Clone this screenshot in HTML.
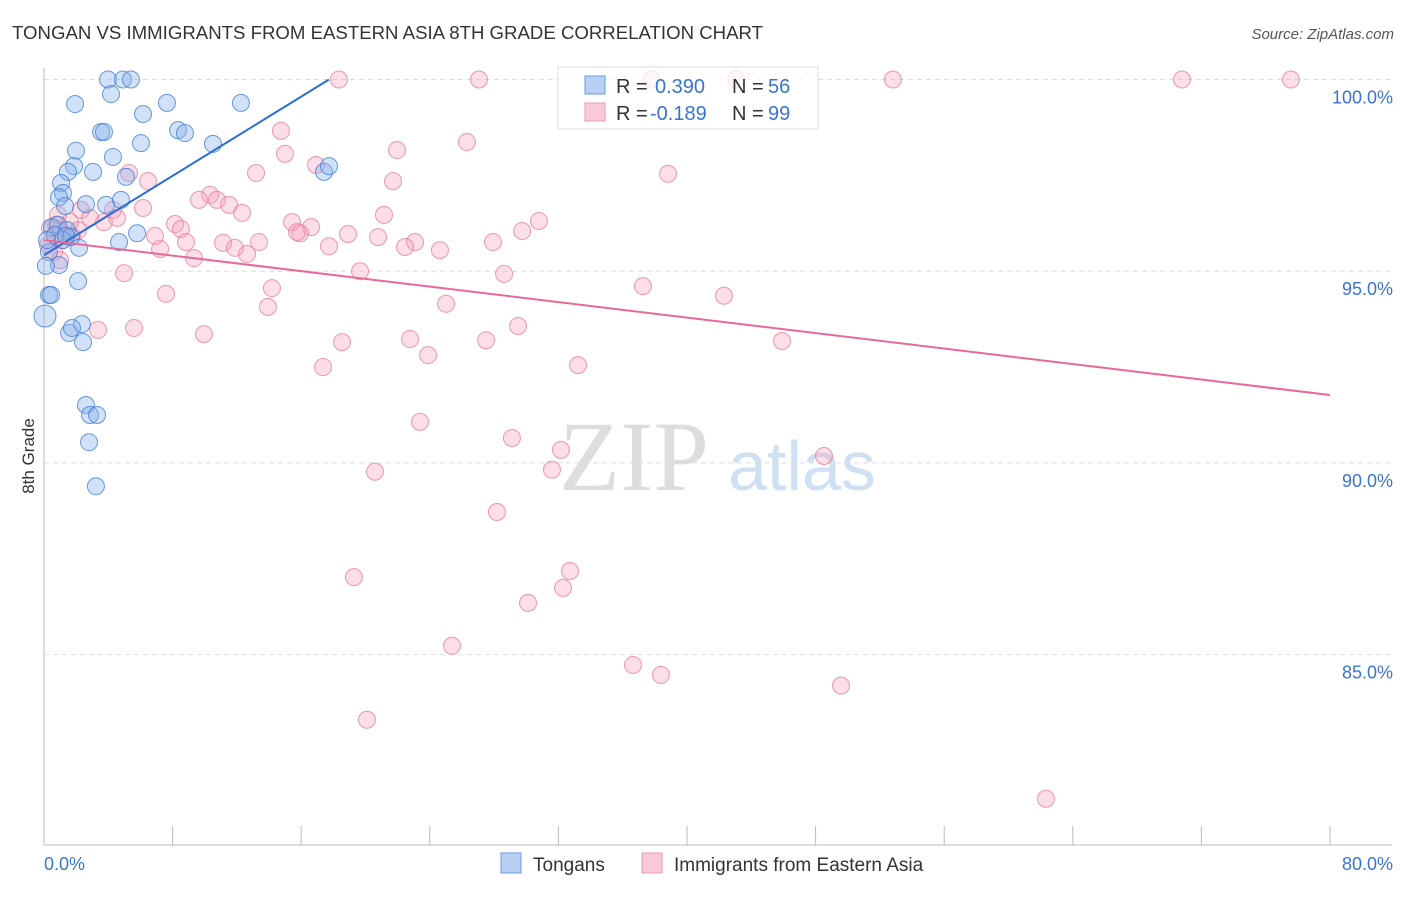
<!DOCTYPE html>
<html><head><meta charset="utf-8"><style>
body{margin:0;background:#fff;font-family:"Liberation Sans",sans-serif;}
</style></head><body>
<svg id="c" width="1406" height="892" font-family="Liberation Sans, sans-serif">
<text x="12" y="39" font-size="18" fill="#333" textLength="751" lengthAdjust="spacingAndGlyphs">TONGAN VS IMMIGRANTS FROM EASTERN ASIA 8TH GRADE CORRELATION CHART</text>
<text x="1394" y="39" font-size="15" fill="#555" font-style="italic" text-anchor="end">Source: ZipAtlas.com</text>
<text x="634" y="490" font-size="100" fill="#ddd" text-anchor="middle" style="font-family:'Liberation Serif',serif">ZIP</text>
<text x="802" y="490" font-size="70" fill="#cfe0f3" text-anchor="middle">atlas</text>
<text transform="translate(34,456) rotate(-90)" font-size="17" fill="#333" text-anchor="middle">8th Grade</text>
<g id="grid"></g><g id="marks"></g><g id="lines"></g>
<g>
<rect x="558" y="67" width="260" height="62" fill="rgba(255,255,255,0.75)" stroke="#ddd"/>
<rect x="585" y="76" width="20" height="18" fill="#b7d0f3" stroke="#6a9be0"/>
<rect x="585" y="103" width="20" height="18" fill="#f9c9d7" stroke="#ec9ab5"/>
<text x="616" y="93" font-size="20" fill="#333">R = <tspan x="655" fill="#3a74d2">0.390</tspan><tspan x="732" fill="#333">N = </tspan><tspan x="768" fill="#3a74d2">56</tspan></text>
<text x="616" y="120" font-size="20" fill="#333">R = <tspan x="650" fill="#3a74d2">-0.189</tspan><tspan x="732" fill="#333">N = </tspan><tspan x="768" fill="#3a74d2">99</tspan></text>
</g>
<g>
<rect x="501" y="853" width="20" height="20" fill="#b7d0f3" stroke="#6a9be0"/>
<text x="533" y="871" font-size="19" fill="#333">Tongans</text>
<rect x="642" y="853" width="20" height="20" fill="#f9c9d7" stroke="#ec9ab5"/>
<text x="674" y="871" font-size="19" fill="#333">Immigrants from Eastern Asia</text>
</g>
</svg>
<script>
const blueX=[3.98,4.91,5.41,4.17,1.93,7.65,12.25,6.16,3.55,3.73,8.34,8.77,6.03,10.51,4.29,1.99,1.87,1.49,3.05,1.06,5.10,17.42,17.73,1.18,0.93,2.61,1.31,3.86,4.79,0.50,0.87,1.43,1.68,4.67,5.79,2.18,0.31,0.93,0.12,2.12,0.31,0.44,0.06,2.36,1.56,1.74,2.43,2.61,2.86,3.30,2.80,3.23,1.18,0.68,1.37,0.19];
const blueY=[100,100,100,99.62,99.36,99.39,99.39,99.10,98.63,98.63,98.68,98.60,98.34,98.32,97.98,98.14,97.74,97.59,97.59,97.30,97.46,97.59,97.74,97.04,96.93,96.75,96.70,96.73,96.86,96.15,96.21,96.07,95.89,95.76,95.99,95.61,95.50,95.16,95.14,94.74,94.38,94.38,93.83,93.62,93.39,93.52,93.15,91.51,91.25,91.25,90.54,89.39,95.81,95.94,95.92,95.81];
const pinkX=[18.35,27.06,37.82,43.05,52.81,70.79,77.57,14.74,26.31,14.99,21.96,16.92,6.47,5.29,13.19,21.71,38.82,10.33,9.64,10.76,11.51,12.32,21.15,4.29,2.30,0.87,6.16,3.73,4.54,8.15,8.52,15.43,16.61,15.93,15.74,18.91,20.78,30.79,29.74,27.93,23.08,22.46,24.63,17.73,13.37,11.14,11.88,12.63,8.83,7.22,6.91,9.33,19.66,4.98,28.62,14.18,7.59,37.26,42.30,25.01,13.93,5.60,3.36,9.95,29.49,22.77,27.50,18.54,45.91,23.89,33.22,17.36,23.39,29.11,32.16,31.60,48.52,20.59,28.18,19.28,32.72,32.29,30.11,25.38,36.64,38.38,49.58,20.09,62.33,0.75,1.00,1.37,0.37,1.62,0.25,0.62,1.12,1.74,2.86,2.12,1.00];
const pinkY=[100,100,100,100,100,100,100,98.66,98.37,98.06,98.16,97.77,97.35,97.56,97.56,97.35,97.54,96.99,96.86,96.86,96.73,96.52,96.47,96.60,96.60,96.47,96.65,96.28,96.39,96.23,96.10,96.28,96.15,95.99,96.02,95.97,95.89,96.31,96.05,95.76,95.76,95.63,95.55,95.65,95.76,95.74,95.61,95.45,95.76,95.58,95.92,95.34,95.00,94.95,94.93,94.56,94.41,94.61,94.36,94.15,94.07,93.52,93.47,93.36,93.57,93.23,93.20,93.15,93.18,92.81,92.55,92.50,91.07,90.65,90.34,89.82,90.18,89.77,88.72,87.02,87.18,86.74,86.35,85.23,84.73,84.47,84.19,83.30,81.24,96.21,96.07,95.92,96.13,96.28,95.68,95.50,95.81,95.92,96.39,96.07,95.29];
const blueTrend=[0,95.42,17.73,100];
const pinkTrend=[0,95.81,80,91.77];
const yTicks=[100,95,90,85];
const yTickLabels=["100.0%","95.0%","90.0%","85.0%"];
const NS="http://www.w3.org/2000/svg";
const X0=44,X1=1330,Ytop=79.5,PPY=38.34;
const sx=v=>X0+(X1-X0)*v/80;
const sy=v=>Ytop+(100-v)*PPY;
function mk(t,a,p){const e=document.createElementNS(NS,t);for(const k in a)e.setAttribute(k,a[k]);p.appendChild(e);return e;}
const grid=document.getElementById('grid');
yTicks.forEach((t,i)=>{
 const l=mk('line',{x1:X0,x2:1392,y1:sy(t),y2:sy(t),stroke:'#ddd','stroke-dasharray':'5,4'},grid);
 
 
 const tx=mk('text',{x:1393,y:sy(t)+24,'font-size':18,fill:'#3a74d2','text-anchor':'end'},grid);
 tx.textContent=yTickLabels[i];
 
 
});
const ax=mk('line',{x1:X0,x2:X0,y1:68,y2:845,stroke:'#bbb'},grid);


const bx=mk('line',{x1:X0,x2:1392,y1:845,y2:845,stroke:'#bbb'},grid);


for(let v=0;v<=80;v+=8){const t=mk('line',{x1:sx(v),x2:sx(v),y1:826,y2:845,stroke:'#bbb'},grid);
 
 }
const xl0=mk('text',{x:44,y:870,'font-size':18,fill:'#3a74d2'},grid);xl0.textContent='0.0%';


const xl1=mk('text',{x:1393,y:870,'font-size':18,fill:'#3a74d2','text-anchor':'end'},grid);xl1.textContent='80.0%';


const marks=document.getElementById('marks');
pinkX.forEach((x,i)=>{const c=mk('circle',{cx:sx(x),cy:sy(pinkY[i]),r:8.5,fill:'rgba(245,160,185,0.35)',stroke:'rgba(230,120,155,0.75)'},marks);
 
 });
blueX.forEach((x,i)=>{const c=mk('circle',{cx:sx(x),cy:sy(blueY[i]),r:i==42?11:8.5,fill:'rgba(140,180,235,0.4)',stroke:'rgba(60,120,210,0.75)'},marks);
 
 });
const lines=document.getElementById('lines');
const bl=mk('line',{x1:sx(blueTrend[0]),y1:sy(blueTrend[1]),x2:sx(blueTrend[2]),y2:sy(blueTrend[3]),stroke:'#2a6fd6','stroke-width':2},lines);


const pl=mk('line',{x1:sx(pinkTrend[0]),y1:sy(pinkTrend[1]),x2:sx(pinkTrend[2]),y2:sy(pinkTrend[3]),stroke:'#e8689a','stroke-width':2},lines);


</script>
</body></html>
